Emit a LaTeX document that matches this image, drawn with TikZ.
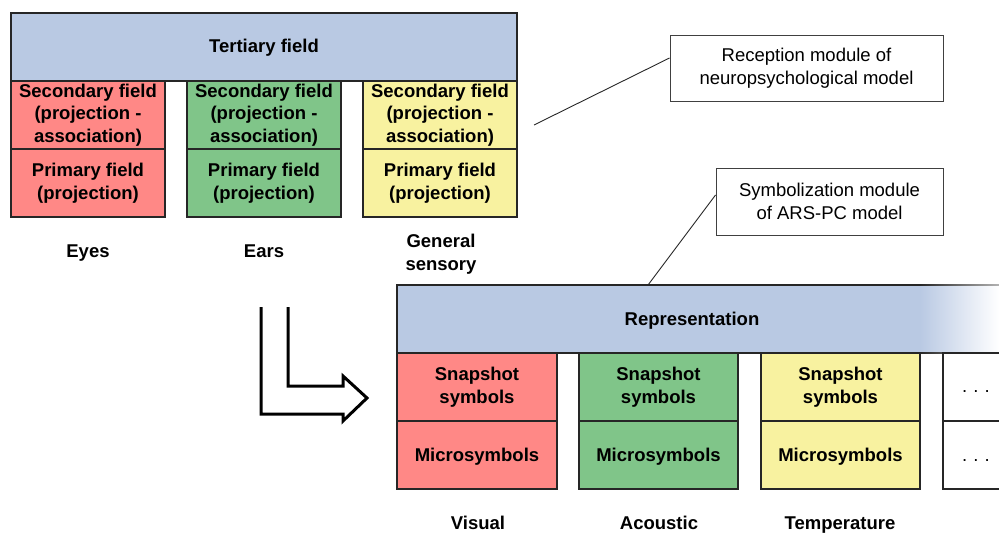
\documentclass[tikz,border=0pt]{standalone}
\usepackage{fontspec}
\setmainfont{Liberation Sans}
\definecolor{tblue}{RGB}{185,201,227}
\definecolor{tred}{RGB}{255,136,134}
\definecolor{tgreen}{RGB}{128,197,137}
\definecolor{tyellow}{RGB}{248,242,160}
\begin{document}
\begin{tikzpicture}[x=1pt,y=-1pt,
  cell/.style={draw=black!85, line width=1.3pt, inner sep=0pt, align=center, font=\bfseries\fontsize{18.5}{22.5}\selectfont},
  lbl/.style={inner sep=0pt, align=center, font=\bfseries\fontsize{18.5}{22.5}\selectfont},
  dotsl/.style={inner sep=0pt, anchor=base, font=\fontsize{18.5}{22.5}\selectfont},
  callout/.style={draw=black!75, line width=1pt, fill=white, inner sep=0pt, align=center, font=\fontsize{18.5}{22.5}\selectfont},
  lead/.style={line width=0.9pt, black!85},
  bigarrow/.style={line width=3pt, line join=miter}]
\useasboundingbox (0,0) rectangle (999,533);
\clip (0,0) rectangle (999,533);
% ---------- top block ----------
\node[cell, fill=tblue, minimum width=506pt, minimum height=68pt] (tert) at (264,47) {};
\node[lbl, anchor=base] (tertT) at (264,52) {Tertiary field};
\node[cell, fill=tred, minimum width=154pt, minimum height=68pt] (sec1) at (88,115) {Secondary field\\(projection -\\association)};
\node[cell, fill=tred, minimum width=154pt, minimum height=68pt] (pri1) at (88,183) {Primary field\\(projection)};
\node[cell, fill=tgreen, minimum width=154pt, minimum height=68pt] (sec2) at (264,115) {Secondary field\\(projection -\\association)};
\node[cell, fill=tgreen, minimum width=154pt, minimum height=68pt] (pri2) at (264,183) {Primary field\\(projection)};
\node[cell, fill=tyellow, minimum width=154pt, minimum height=68pt] (sec3) at (440,115) {Secondary field\\(projection -\\association)};
\node[cell, fill=tyellow, minimum width=154pt, minimum height=68pt] (pri3) at (440,183) {Primary field\\(projection)};
\node[lbl, anchor=base] (eyes) at (88,257) {Eyes};
\node[lbl, anchor=base] (ears) at (264,257) {Ears};
\node[lbl, anchor=base] (gen) at (441,270) {General\\sensory};
% ---------- callouts ----------
\node[callout, minimum width=273pt, minimum height=66pt] (rec) at (806.5,68) {Reception module of\\neuropsychological model};
\node[callout, minimum width=227pt, minimum height=67pt] (sym) at (829.5,201.5) {Symbolization module\\of ARS-PC model};
\coordinate (recfoot) at (534,125);
\coordinate (symfoot) at (648,285);
\draw[lead] (recfoot) -- ([yshift=10pt]rec.west);
\draw[lead] (symfoot) -- ([yshift=6.5pt]sym.west);
% ---------- big arrow ----------
\coordinate (arrA) at (288,307);
\coordinate (arrB) at (261,307);
\draw[bigarrow] (arrA) -- (288,386) -- (343,386) -- (343,376) -- (367,398) -- (343,421) -- (343,414) -- (261,414) -- (arrB);
% ---------- representation ----------
\fill[tblue] (397,285) rectangle (921,353);
\shade[left color=tblue, right color=white] (920,285) rectangle (999,353);
\draw[black!85, line width=1.3pt] (921,285) -- (397,285) -- (397,353) -- (921,353);
\shade[left color=black!85, right color=black!30] (920,284.35) rectangle (999,285.65);
\shade[left color=black!85, right color=black!30] (920,352.35) rectangle (999,353.65);
\node[lbl, anchor=base] (rep) at (692,325) {Representation};
\node[cell, fill=tred, minimum width=160pt, minimum height=68pt] (snap1) at (477,387) {Snapshot\\symbols};
\node[cell, fill=tred, minimum width=160pt, minimum height=68pt] (mic1) at (477,455) {};
\node[cell, fill=tgreen, minimum width=159pt, minimum height=68pt] (snap2) at (658.5,387) {Snapshot\\symbols};
\node[cell, fill=tgreen, minimum width=159pt, minimum height=68pt] (mic2) at (658.5,455) {};
\node[cell, fill=tyellow, minimum width=159pt, minimum height=68pt] (snap3) at (840.5,387) {Snapshot\\symbols};
\node[cell, fill=tyellow, minimum width=159pt, minimum height=68pt] (mic3) at (840.5,455) {};
\node[lbl, anchor=base] (mic1T) at (477,461) {Microsymbols};
\node[lbl, anchor=base] (mic2T) at (658.5,461) {Microsymbols};
\node[lbl, anchor=base] (mic3T) at (840.5,461) {Microsymbols};
\node[cell, fill=white, minimum width=160pt, minimum height=68pt] (snap4) at (1023,387) {};
\node[cell, fill=white, minimum width=160pt, minimum height=68pt] (mic4) at (1023,455) {};
\node[dotsl] (d1) at (976,392) {.\,\,.\,\,.};
\node[dotsl] (d2) at (976,461) {.\,\,.\,\,.};
\node[lbl, anchor=base] (vis) at (478,529) {Visual};
\node[lbl, anchor=base] (aco) at (659,529) {Acoustic};
\node[lbl, anchor=base] (tem) at (840,529) {Temperature};
\end{tikzpicture}
\end{document}
